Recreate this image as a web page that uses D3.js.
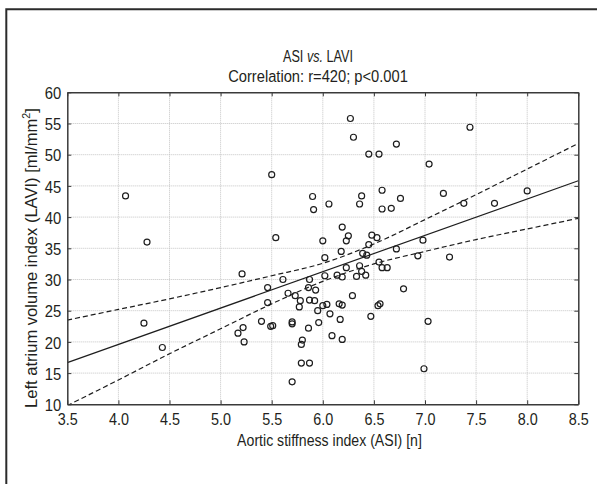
<!DOCTYPE html>
<html>
<head>
<meta charset="utf-8">
<script src="https://cdn.jsdelivr.net/npm/d3@7"></script>
<style>
  body { margin: 0; background: #fff; }
  text { font-family: "Liberation Sans", Arial, sans-serif; fill: #231f20; }
</style>
</head>
<body>
<div id="chart"></div>
<script>
(function () {

  // data
  var asi  = [4.07, 4.28, 4.25, 4.43, 5.21, 5.17, 5.22, 5.23, 5.40, 5.46,
              5.46, 5.49, 5.51, 5.50, 5.54, 5.61, 5.66, 5.73, 5.78, 5.77,
              5.70, 5.70, 5.80, 5.79, 5.79, 5.87, 5.70, 5.87, 5.86, 5.87,
              5.92, 5.93, 5.95, 5.96, 5.86, 6.00, 6.04, 6.02, 6.02, 5.90,
              5.91, 6.00, 6.06, 6.27, 6.30, 6.72, 6.45, 6.55, 7.44, 7.04,
              6.58, 6.38, 6.36, 6.76, 6.58, 6.67, 7.18, 7.38, 7.68, 8.00,
              6.19, 6.25, 6.23, 6.48, 6.53, 6.45, 6.98, 6.18, 6.72, 6.39,
              6.43, 6.93, 7.24, 6.14, 6.19, 6.23, 6.36, 6.38, 6.33, 6.42,
              6.55, 6.58, 6.63, 6.79, 6.29, 6.16, 6.19, 6.07, 6.17, 6.09,
              6.19, 6.47, 6.54, 6.56, 7.03, 6.99]
  var lavi = [43.4, 36.0, 23.0, 19.1, 30.9, 21.4, 22.3, 20.0, 23.3, 28.7,
              26.3, 22.5, 22.6, 46.8, 36.7, 30.0, 27.8, 27.4, 26.6, 25.6,
              23.2, 22.9, 20.3, 19.6, 16.6, 16.6, 13.6, 30.0, 28.7, 26.7,
              26.6, 28.3, 25.0, 23.1, 22.2, 25.8, 26.0, 33.5, 30.6, 43.3,
              41.2, 36.2, 42.1, 55.8, 52.8, 51.7, 50.1, 50.1, 54.4, 48.5,
              44.3, 43.4, 42.1, 43.0, 41.3, 41.4, 43.8, 42.2, 42.2, 44.2,
              38.4, 37.0, 36.2, 37.1, 36.7, 35.6, 36.3, 34.5, 34.9, 34.2,
              33.9, 33.8, 33.6, 30.7, 30.4, 31.9, 32.2, 31.3, 30.5, 30.7,
              32.8, 31.9, 31.9, 28.5, 27.4, 26.1, 25.9, 24.5, 23.6, 21.0,
              20.4, 24.1, 25.8, 26.1, 23.3, 15.7]

  // regression line ends and 95% band, read at each x tick
  var fitX = [3.5, 8.5]
  var fitY = [16.67, 45.82]
  var bandX     = [3.5, 4.0, 4.5, 5.0, 5.5, 6.0, 6.5, 7.0, 7.5, 8.0, 8.5]
  var bandUpper = [23.5, 25.2, 26.9, 28.7, 30.6, 32.6, 35.7, 39.6, 43.6, 47.7, 51.8]
  var bandLower = [9.8, 13.9, 18.1, 22.1, 26.1, 29.7, 32.5, 34.5, 36.4, 38.1, 39.8]

  var xTicks = [3.5, 4.0, 4.5, 5.0, 5.5, 6.0, 6.5, 7.0, 7.5, 8.0, 8.5]
  var yTicks = [10, 15, 20, 25, 30, 35, 40, 45, 50, 55, 60]

  var width = 597,
      height = 484

  var svg = d3.select('#chart')
    .append('svg')
    .attr('width', width)
    .attr('height', height)

  // outer frame (only left and top edges show)
  svg.append('path')
    .attr('d', 'M6.3,' + height + 'V9.3H' + width)
    .attr('fill', 'none')
    .attr('stroke', '#2b2b2b')
    .attr('stroke-width', 2)

  var left = 67.3, right = 578.3, top = 92.3, bottom = 404.3

  var x = d3.scaleLinear().domain([3.5, 8.5]).range([left, right])
  var y = d3.scaleLinear().domain([10, 60]).range([bottom, top])

  // grid
  var grid = svg.append('g').attr('class', 'grid')
  grid.selectAll('.gx')
    .data(xTicks.slice(1, -1))
    .enter().append('line')
    .attr('x1', function (d) { return x(d) })
    .attr('x2', function (d) { return x(d) })
    .attr('y1', top).attr('y2', bottom)
  grid.selectAll('.gy')
    .data(yTicks.slice(1, -1))
    .enter().append('line')
    .attr('y1', function (d) { return y(d) })
    .attr('y2', function (d) { return y(d) })
    .attr('x1', left).attr('x2', right)
  grid.selectAll('line')
    .attr('stroke', '#c4c4c4')
    .attr('stroke-width', 1)
    .attr('stroke-dasharray', '1,1')

  var defs = svg.append('defs')
  defs.append('clipPath').attr('id', 'plotclip')
    .append('rect')
    .attr('x', left).attr('y', top)
    .attr('width', right - left).attr('height', bottom - top)

  var plot = svg.append('g').attr('clip-path', 'url(#plotclip)')

  // points
  plot.selectAll('.pt')
    .data(asi)
    .enter().append('circle')
    .attr('class', 'pt')
    .attr('cx', function (d) { return x(d) })
    .attr('cy', function (d, i) { return y(lavi[i]) })
    .attr('r', 3)
    .attr('fill', 'none')
    .attr('stroke', '#1e1e1e')
    .attr('stroke-width', 1.2)

  // fit line
  plot.append('path')
    .datum(fitX)
    .attr('d', d3.line()
      .x(function (d) { return x(d) })
      .y(function (d, i) { return y(fitY[i]) }))
    .attr('fill', 'none')
    .attr('stroke', '#1e1e1e')
    .attr('stroke-width', 1.2)

  // confidence band
  var bandLine = function (vals) {
    return d3.line()
      .curve(d3.curveCatmullRom)
      .x(function (d) { return x(d) })
      .y(function (d, i) { return y(vals[i]) })
  }
  ;[bandUpper, bandLower].forEach(function (vals) {
    plot.append('path')
      .datum(bandX)
      .attr('d', bandLine(vals))
      .attr('fill', 'none')
      .attr('stroke', '#1e1e1e')
      .attr('stroke-width', 1.2)
      .attr('stroke-dasharray', '5,3')
  })

  // axes, ticks pointing inward on all four sides
  var fmt = d3.format('.1f')
  var axB = svg.append('g').attr('transform', 'translate(0,' + bottom + ')')
    .call(d3.axisBottom(x).tickValues(xTicks).tickFormat(fmt).tickSizeInner(-4).tickSizeOuter(0).tickPadding(9))
  var axT = svg.append('g').attr('transform', 'translate(0,' + top + ')')
    .call(d3.axisTop(x).tickValues(xTicks).tickFormat('').tickSizeInner(-4).tickSizeOuter(0))
  var axL = svg.append('g').attr('transform', 'translate(' + left + ',0)')
    .call(d3.axisLeft(y).tickValues(yTicks).tickSizeInner(-4).tickSizeOuter(0).tickPadding(6))
  var axR = svg.append('g').attr('transform', 'translate(' + right + ',0)')
    .call(d3.axisRight(y).tickValues(yTicks).tickFormat('').tickSizeInner(-4).tickSizeOuter(0))

  svg.selectAll('.domain').attr('stroke', '#3a3a3a').attr('stroke-width', 1.5)
  svg.selectAll('.tick line').attr('stroke', '#3a3a3a').attr('stroke-width', 1)
  svg.selectAll('.tick text')
    .attr('font-size', 17)
    .attr('font-family', null)
    .attr('fill', '#231f20')
    .attr('lengthAdjust', 'spacingAndGlyphs')
  axB.selectAll('.tick text').attr('textLength', 20)
  axL.selectAll('.tick text').attr('textLength', 16.5).attr('dy', '0.36em')

  // squeeze a text to a given width, centred on cx (condensed face look)
  function squeeze(sel, cx, cy, w, rot) {
    var n = sel.node().getComputedTextLength()
    sel.attr('x', 0).attr('y', 0)
      .attr('transform', 'translate(' + cx + ',' + cy + ')' + (rot ? ' rotate(' + rot + ')' : '') +
        ' scale(' + (w / n) + ',1)')
  }

  // titles
  var t1 = svg.append('text')
    .attr('text-anchor', 'middle')
    .attr('font-size', 17)
  t1.append('tspan').text('ASI ')
  t1.append('tspan').attr('font-style', 'italic').text('vs.')
  t1.append('tspan').text(' LAVI')
  squeeze(t1, 318, 62, 70)

  var t2 = svg.append('text')
    .attr('text-anchor', 'middle')
    .attr('font-size', 17)
    .text('Correlation: r=420; p<0.001')
  squeeze(t2, 318, 82, 180)

  var xl = svg.append('text')
    .attr('text-anchor', 'middle')
    .attr('font-size', 17)
    .text('Aortic stiffness index (ASI) [n]')
  squeeze(xl, 329.5, 446, 185)

  var yl = svg.append('text')
    .attr('text-anchor', 'middle')
    .attr('font-size', 17)
  yl.append('tspan').text('Left atrium volume index (LAVI) [ml/mm')
  yl.append('tspan').attr('font-size', 11).attr('dy', -7).text('2')
  yl.append('tspan').attr('dy', 7).text(']')
  squeeze(yl, 37, 258, 300, -90)

})()
</script>
</body>
</html>
